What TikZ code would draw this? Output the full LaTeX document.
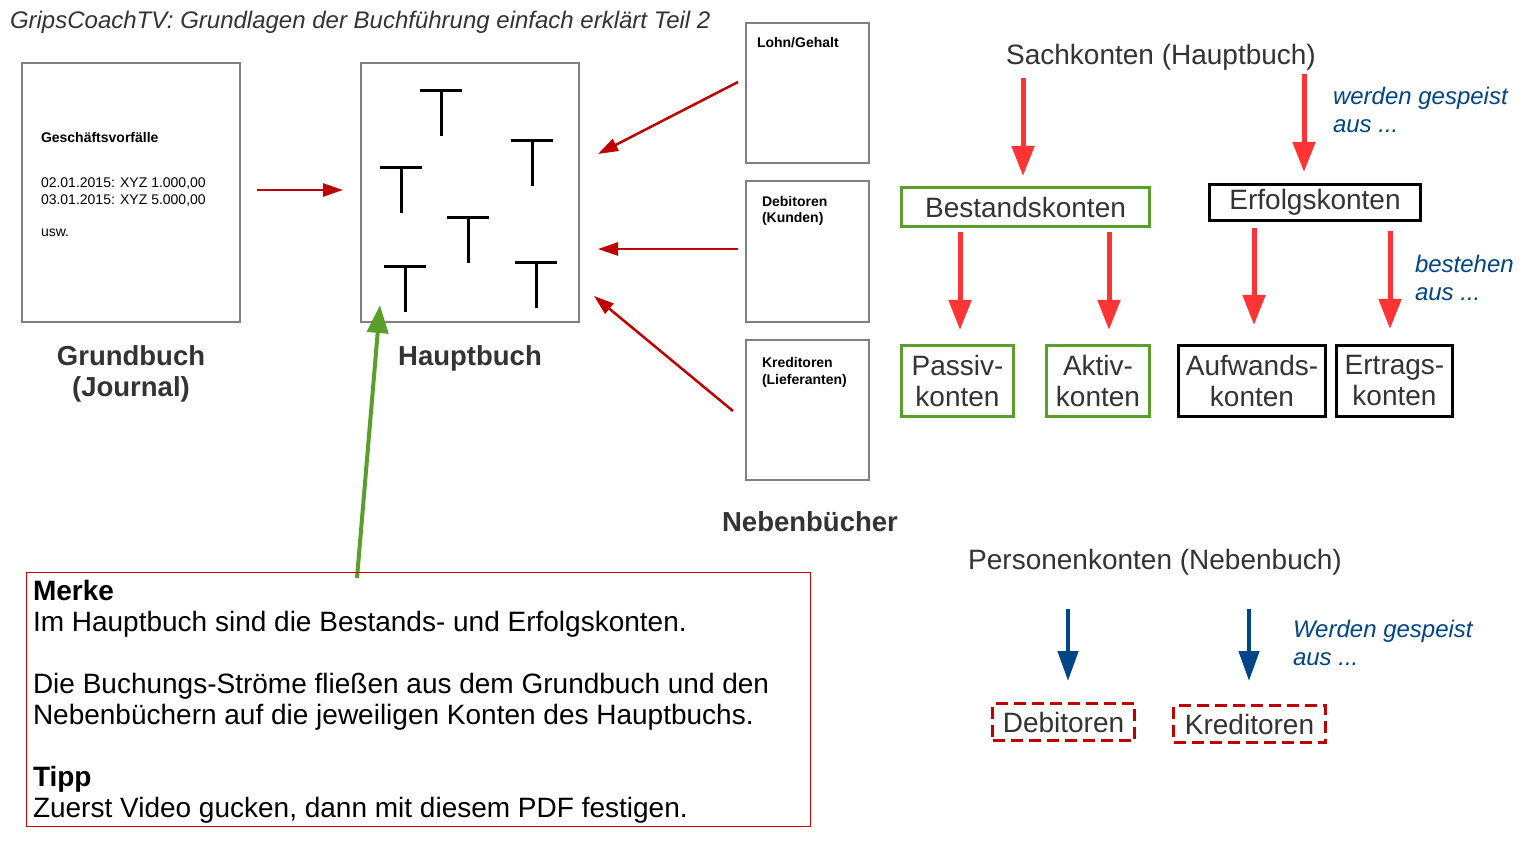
\documentclass[tikz,border=0pt]{standalone}
\usepackage{fontspec}
\setmainfont{Liberation Sans}
\usetikzlibrary{arrows.meta}
\definecolor{txt}{HTML}{333333}
\definecolor{darkred}{HTML}{C00000}
\definecolor{brightred}{HTML}{FF3535}
\definecolor{navy}{HTML}{004586}
\definecolor{leaf}{HTML}{5A9E2C}
\definecolor{pagegray}{HTML}{808080}
\definecolor{merkered}{HTML}{CC0000}
\newcommand\fsz[2]{\fontsize{#1}{#2}\selectfont}
\tikzset{
  every node/.style={inner sep=0pt, outer sep=0pt},
  pagebox/.style={draw=pagegray, line width=1.3pt},
  smallbold/.style={anchor=base west, align=left, font=\fsz{14}{16.5}\bfseries, text=black},
  smallreg/.style={anchor=base west, align=left, font=\fsz{14}{17}, text=black},
  biglabel/.style={anchor=base, align=center, font=\fsz{27.5}{31}\bfseries, text=txt},
  heading/.style={anchor=base, font=\fsz{28}{31}, text=txt},
  note/.style={anchor=base west, align=left, font=\fsz{24}{28}\itshape, text=navy},
  greenbox/.style={draw=leaf, line width=3pt, align=center, font=\fsz{28}{31}, text=txt},
  blackbox/.style={draw=black, line width=3pt, align=center, font=\fsz{28}{31}, text=txt},
  dashbox/.style={draw=darkred, line width=3pt, dash pattern=on 12pt off 6pt, font=\fsz{28}{31}, text=txt},
  thinred/.style={draw=darkred, line width=2.5pt, -{Triangle[length=20pt,width=13pt]}},
  greenarrow/.style={draw=leaf, line width=4pt, -{Triangle[length=28pt,width=21pt]}},
  fatred/.style={draw=brightred, line width=5pt, -{Triangle[length=30pt,width=22pt]}},
  fatblue/.style={draw=navy, line width=4.5pt, -{Triangle[length=30pt,width=20pt]}},
  tacc/.pic={\draw[line width=3pt] (-21,0) -- (21,0) (0,0) -- (0,45);}
}
\begin{document}
\begin{tikzpicture}[x=1pt,y=-1pt]
\useasboundingbox[fill=white] (0,0) rectangle (1523,850);

% title
\node[anchor=base west, font=\fsz{24}{28}\itshape, text=txt] (title) at (10,29)
  {GripsCoachTV: Grundlagen der Buchführung einfach erklärt Teil 2};

% Grundbuch page
\node[pagebox, minimum width=218pt, minimum height=259pt] (gb) at (131,192.5) {};
\node[smallbold] (gbhead) at (41,143) {Geschäftsvorfälle};
\node[smallreg] (gbdates) at (41,205) {02.01.2015: XYZ 1.000,00\\03.01.2015: XYZ 5.000,00};
\node[smallreg] (gbusw) at (41,237) {usw.};
\node[biglabel] (gblabel) at (131,396) {Grundbuch\\(Journal)};

% Hauptbuch page
\node[pagebox, minimum width=218pt, minimum height=259pt] (hb) at (470,192.5) {};
\pic at (441,91) {tacc};
\pic at (532,141) {tacc};
\pic at (401,168) {tacc};
\pic at (468,218) {tacc};
\pic at (405,267) {tacc};
\pic at (536,263) {tacc};
\node[biglabel] (hblabel) at (470,365) {Hauptbuch};

% Nebenbuecher
\node[pagebox, minimum width=123pt, minimum height=140pt] (lohn) at (807.5,93) {};
\node[smallbold] (lohntxt) at (757,48) {Lohn/Gehalt};
\node[pagebox, minimum width=123pt, minimum height=141pt] (debb) at (807.5,251.5) {};
\node[smallbold] (debtxt) at (762,223) {Debitoren\\(Kunden)};
\node[pagebox, minimum width=123pt, minimum height=140pt] (kred) at (807.5,410) {};
\node[smallbold] (kredtxt) at (762,384) {Kreditoren\\(Lieferanten)};
\node[biglabel] (nblabel) at (810,531) {Nebenbücher};

% arrows into Hauptbuch
\coordinate (a1s) at (257,190); \coordinate (a1e) at (343,190);
\draw[thinred] (a1s) -- (a1e);
\coordinate (a2s) at (738,82); \coordinate (a2e) at (598,154);
\draw[thinred] (a2s) -- (a2e);
\coordinate (a3s) at (738,249); \coordinate (a3e) at (598,249);
\draw[thinred] (a3s) -- (a3e);
\coordinate (a4s) at (733,411); \coordinate (a4e) at (594,296);
\draw[thinred] (a4s) -- (a4e);
\coordinate (gs) at (357,578); \coordinate (ge) at (380,305);
\draw[greenarrow] (gs) -- (ge);

% Sachkonten
\node[heading] (sach) at (1161,65) {Sachkonten (Hauptbuch)};
\node[note] (spe1) at (1333,133) {werden gespeist\\aus ...};
\node[greenbox, minimum width=248pt, minimum height=39pt] (best) at (1025.5,207) {Bestandskonten};
\node[blackbox, minimum width=211pt, minimum height=36pt] (erf) at (1315,202.5) {Erfolgskonten};
\coordinate (s1s) at (1023,78); \coordinate (s1e) at (1023,176);
\draw[fatred] (s1s) -- (s1e);
\coordinate (s2s) at (1304,74); \coordinate (s2e) at (1304,172);
\draw[fatred] (s2s) -- (s2e);
\node[note] (best1) at (1415,301) {bestehen\\aus ...};

\node[greenbox, minimum width=112pt, minimum height=71pt] (pass) at (957.5,381) {Passiv-\\konten};
\node[greenbox, minimum width=103pt, minimum height=71pt] (akt) at (1098,381) {Aktiv-\\konten};
\node[blackbox, minimum width=147pt, minimum height=71pt] (aufw) at (1252,381) {Aufwands-\\konten};
\node[blackbox, minimum width=116pt, minimum height=71pt] (ertr) at (1394.5,381) {Ertrags-\\konten};

\coordinate (b1s) at (960,232); \coordinate (b1e) at (960,330);
\draw[fatred] (b1s) -- (b1e);
\coordinate (b2s) at (1109,232); \coordinate (b2e) at (1109,330);
\draw[fatred] (b2s) -- (b2e);
\coordinate (e1s) at (1254,228); \coordinate (e1e) at (1254,325);
\draw[fatred] (e1s) -- (e1e);
\coordinate (e2s) at (1390,231); \coordinate (e2e) at (1390,329);
\draw[fatred] (e2s) -- (e2e);

% Personenkonten
\node[heading] (pers) at (1155,569) {Personenkonten (Nebenbuch)};
\node[note] (spe2) at (1293,665) {Werden gespeist\\aus ...};
\coordinate (p1s) at (1068,609); \coordinate (p1e) at (1068,681);
\draw[fatblue] (p1s) -- (p1e);
\coordinate (p2s) at (1249,609); \coordinate (p2e) at (1249,681);
\draw[fatblue] (p2s) -- (p2e);
\node[dashbox, minimum width=142pt, minimum height=37pt] (debi) at (1063.5,722) {Debitoren};
\node[dashbox, minimum width=152pt, minimum height=37pt] (kredi) at (1249.5,724) {Kreditoren};

% Merke box
\node[draw=merkered, line width=1pt, minimum width=784pt, minimum height=254pt] (merke) at (418,699) {};
\node[anchor=base west, align=left, font=\fsz{28}{31}, text=black] (merketxt) at (33,817)
  {\textbf{Merke}\\Im Hauptbuch sind die Bestands- und Erfolgskonten.\\[31pt]
   Die Buchungs-Ströme fließen aus dem Grundbuch und den\\Nebenbüchern auf die jeweiligen Konten des Hauptbuchs.\\[31pt]
   \textbf{Tipp}\\Zuerst Video gucken, dann mit diesem PDF festigen.};
\end{tikzpicture}
\end{document}
